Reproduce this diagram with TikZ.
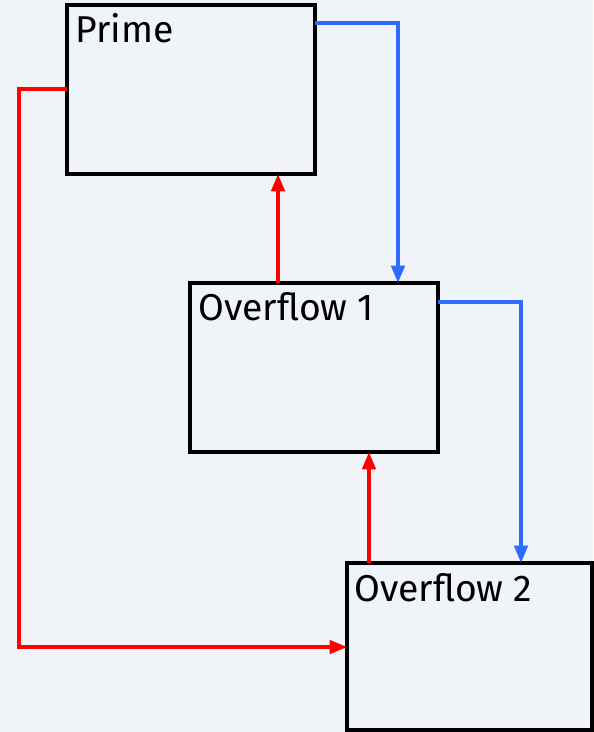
\documentclass[tikz,border=0pt]{standalone}
\usepackage{fontspec}
\setmainfont{Fira Sans}
\usetikzlibrary{arrows.meta}
\definecolor{bg}{HTML}{F0F3F7}
\definecolor{linkblue}{HTML}{2F6BFF}
\definecolor{linkred}{HTML}{FF0000}
\begin{document}
\begin{tikzpicture}[x=0.75pt,y=-0.75pt,
  page/.style={draw=black,line width=2.4pt,fill=bg},
  pagelabel/.style={anchor=base west,inner sep=0pt,font=\fontsize{28}{32}\selectfont},
  fwd/.style={draw=linkblue,line width=2.6pt,-{Triangle[length=13pt,width=10pt]}},
  back/.style={draw=linkred,line width=2.6pt,-{Triangle[length=13pt,width=10pt]}}]
  % canvas
  \fill[bg] (0,0) rectangle (593,732);
  \useasboundingbox (0,0) rectangle (593,732);
  % pages
  \draw[page] (67,5) rectangle (315,174);
  \draw[page] (190,283) rectangle (438,452);
  \draw[page] (347,563) rectangle (592,730);
  % labels
  \node[pagelabel] (lp) at (75,42) {Prime};
  \node[pagelabel] (l1) at (198,320) {Overflow 1};
  \node[pagelabel] (l2) at (354,601) {Overflow 2};
  % forward chain
  \coordinate (p1) at (315,23);
  \coordinate (o1top) at (398,283);
  \draw[fwd] (p1) -| (o1top);
  \coordinate (p2) at (438,302);
  \coordinate (o2top) at (521,563);
  \draw[fwd] (p2) -| (o2top);
  % backward chain
  \coordinate (b1s) at (278,283);
  \coordinate (b1e) at (278,174);
  \draw[back] (b1s) -- (b1e);
  \coordinate (b2s) at (369,563);
  \coordinate (b2e) at (369,452);
  \draw[back] (b2s) -- (b2e);
  \coordinate (r0) at (67,89);
  \coordinate (r1) at (19,89);
  \coordinate (r2) at (19,647);
  \coordinate (r3) at (347,647);
  \draw[back] (r0) -- (r1) -- (r2) -- (r3);
\end{tikzpicture}
\end{document}
